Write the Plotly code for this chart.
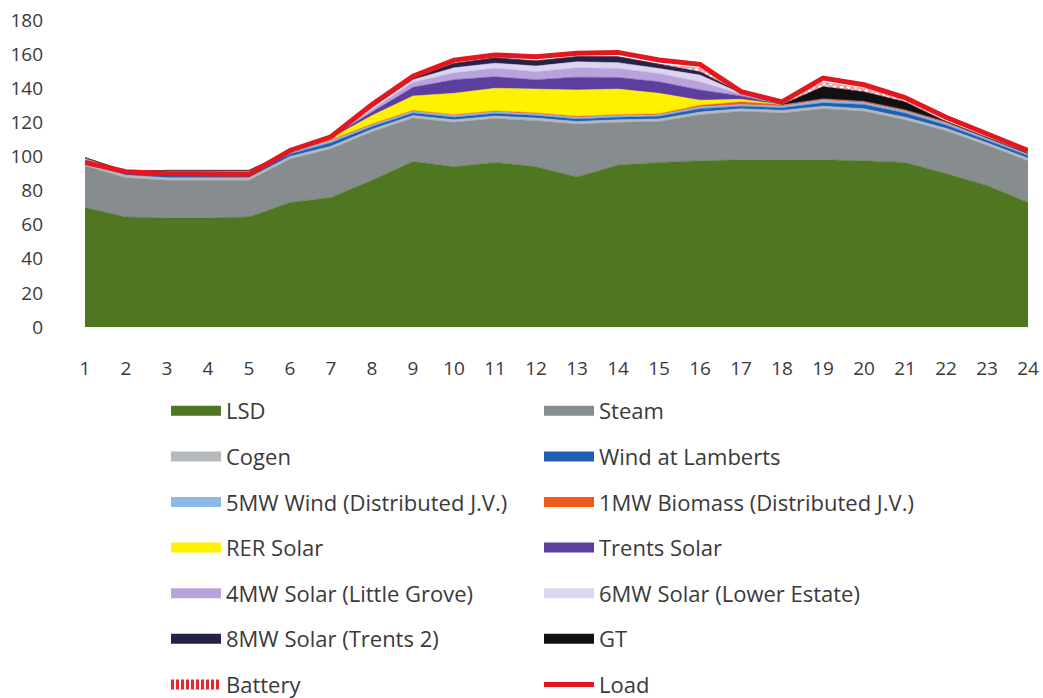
import plotly.graph_objects as go

hours = list(range(1, 25))

lsd = [70, 64.5, 64, 64, 64.5, 73, 76, 86, 97, 94, 96.5, 94, 88, 95, 96.5, 97.5, 98, 98, 98, 97.5, 96.5, 90, 83, 73]
steam = [24.5, 23, 22, 22, 21.5, 25.5, 28.5, 28.5, 25.5, 26, 25.7, 27, 31, 25, 24, 27, 28.5, 27.5, 30, 29, 25, 25, 23.5, 24.5]
cogen = [1.5, 1.5, 1.5, 1.5, 1.5, 1.5, 1.5, 1.5, 1.5, 1.5, 1.5, 1.5, 1.5, 1.5, 1.5, 1.5, 1.5, 1.5, 1.5, 1.5, 1.5, 1.5, 1.5, 1.5]
wind_lamberts = [1.5, 1.0, 2.5, 2.5, 2.5, 1.5, 2.0, 1.5, 1.5, 1.5, 1.5, 1.5, 1.5, 1.5, 1.5, 2.0, 1.5, 1.5, 2.0, 2.5, 2.5, 2.0, 1.5, 1.5]
wind_5mw = [1.0, 0.8, 1.0, 1.0, 1.0, 1.0, 1.2, 1.0, 1.0, 1.0, 1.0, 1.0, 1.0, 1.0, 1.0, 1.0, 1.0, 1.0, 1.5, 1.0, 1.0, 1.0, 1.0, 1.0]
biomass = [0.8, 0.5, 0.8, 0.8, 0.8, 0.5, 0.5, 0.5, 0.5, 0.5, 0.5, 0.5, 0.5, 0.5, 0.5, 1.0, 1.5, 1.0, 1.0, 1.0, 1.0, 1.0, 0.5, 0.3]
rer_solar = [0, 0, 0, 0, 0, 0, 1.0, 5.0, 8.5, 12.5, 13.3, 14.0, 15.5, 15.0, 12.0, 3.0, 1.5, 0, 0, 0, 0, 0, 0, 0]
trents_solar = [0, 0, 0, 0, 0, 0, 0.5, 2.0, 5.0, 8.0, 6.7, 5.5, 7.5, 6.8, 6.8, 6.0, 2.0, 0, 0, 0, 0, 0, 0, 0]
solar_4mw = [0, 0, 0, 0, 0, 0, 0.3, 1.5, 3.0, 4.0, 5.0, 4.7, 5.5, 5.3, 4.8, 4.8, 1.0, 0, 0, 0, 0, 0, 0, 0]
solar_6mw = [0, 0, 0, 0, 0, 0, 0.2, 1.0, 1.5, 3.0, 3.0, 3.3, 3.5, 3.4, 3.0, 3.9, 0.5, 0, 0, 0, 0, 0, 0, 0]
solar_8mw = [0, 0, 0, 0, 0, 0, 0.2, 1.0, 1.0, 2.5, 3.0, 3.0, 3.0, 3.4, 2.4, 2.0, 0.3, 0, 0, 0, 0, 0, 0, 0]
gt = [0, 0, 0, 0, 0, 0, 0, 0, 0, 0, 0, 0, 0, 0, 0, 0, 0, 0, 7.0, 5.5, 4.5, 0, 0, 0]
battery = [0, 0, 0, 0, 0, 0, 0, 0, 0, 0, 0, 0, 0, 0, 0, 2.0, 0.5, 1.0, 2.5, 2.0, 1.0, 0, 0, 0]
load = [96.5, 91, 90, 90, 89.5, 103.5, 111.5, 130.5, 147, 156.5, 159.5, 158.5, 160.5, 161, 156.5, 154, 138, 132, 146, 142, 134.5, 123, 113, 103.5]

y_ticks = [0, 20, 40, 60, 80, 100, 120, 140, 160, 180]

# (name, values, color, legend id)
series = [
    ("LSD", lsd, "#4f7721", "legend"),
    ("Steam", steam, "#878c8f", "legend2"),
    ("Cogen", cogen, "#b5b9bc", "legend"),
    ("Wind at Lamberts", wind_lamberts, "#1f5fb4", "legend2"),
    ("5MW Wind (Distributed J.V.)", wind_5mw, "#8fb8ea", "legend"),
    ("1MW Biomass (Distributed J.V.)", biomass, "#f05a1a", "legend2"),
    ("RER Solar", rer_solar, "#fff200", "legend"),
    ("Trents Solar", trents_solar, "#5b3e9e", "legend2"),
    ("4MW Solar (Little Grove)", solar_4mw, "#b9a3dc", "legend"),
    ("6MW Solar (Lower Estate)", solar_6mw, "#ddd5f0", "legend2"),
    ("8MW Solar (Trents 2)", solar_8mw, "#23234a", "legend"),
    ("GT", gt, "#111111", "legend2"),
]

fig = go.Figure()
for i, (name, vals, col, leg) in enumerate(series):
    fig.add_trace(go.Scatter(
        x=hours, y=vals, name=name, stackgroup="gen", mode="lines",
        line=dict(color=col, width=0.5), fillcolor=col,
        legendgroup=name, showlegend=False, hoverinfo="skip",
    ))
    # legend entry drawn as a thick bar
    fig.add_trace(go.Scatter(
        x=[None], y=[None], name=name, mode="lines",
        line=dict(color=col, width=10),
        legend=leg, legendgroup=name, legendrank=i,
    ))

fig.add_trace(go.Scatter(
    x=hours, y=battery, name="Battery", stackgroup="gen", mode="lines",
    line=dict(color="rgba(227,23,29,0.6)", width=0.5),
    fillpattern=dict(shape="x", fgcolor="#e3171d", bgcolor="white", size=5, solidity=0.5),
    legendgroup="Battery", showlegend=False, hoverinfo="skip",
))
fig.add_trace(go.Scatter(
    x=[None], y=[None], name="Battery", mode="lines",
    line=dict(color="#e8262c", width=10, dash="3px,2px"),
    legend="legend", legendgroup="Battery", legendrank=20,
))

fig.add_trace(go.Scatter(
    x=hours, y=load, name="Load", mode="lines",
    line=dict(color="#e3171d", width=5),
    legend="legend2", legendgroup="Load", legendrank=21,
))

font_family = "Open Sans, Lato, sans-serif"
txt_color = "#3a3a3a"

leg_common = dict(
    orientation="v", traceorder="grouped", tracegroupgap=14,
    font=dict(size=22, color=txt_color, family=font_family),
    bgcolor="rgba(0,0,0,0)", itemwidth=50, yanchor="top", yref="container",
    xref="container", xanchor="left",
    itemclick=False, itemdoubleclick=False,
)

fig.update_layout(
    width=1043, height=698,
    margin=dict(l=85, r=15, t=20, b=371, autoexpand=False),
    plot_bgcolor="white", paper_bgcolor="white",
    font=dict(family=font_family, size=18, color=txt_color),
    showlegend=True,
    legend=dict(x=166 / 1043, y=1 - 390 / 698, **leg_common),
    legend2=dict(x=539 / 1043, y=1 - 390 / 698, **leg_common),
    xaxis=dict(
        range=[1, 24], tickmode="array", tickvals=hours,
        ticktext=[str(h) for h in hours], showgrid=False, zeroline=False,
        showline=False, ticks="", ticklabelstandoff=28,
        tickfont=dict(size=19, color=txt_color),
    ),
    yaxis=dict(
        range=[0, 180], tickmode="array", tickvals=y_ticks,
        showgrid=False, zeroline=False, showline=False, ticks="",
        ticklabelstandoff=41, tickfont=dict(size=19, color=txt_color),
    ),
)

fig.write_html("out.html")
